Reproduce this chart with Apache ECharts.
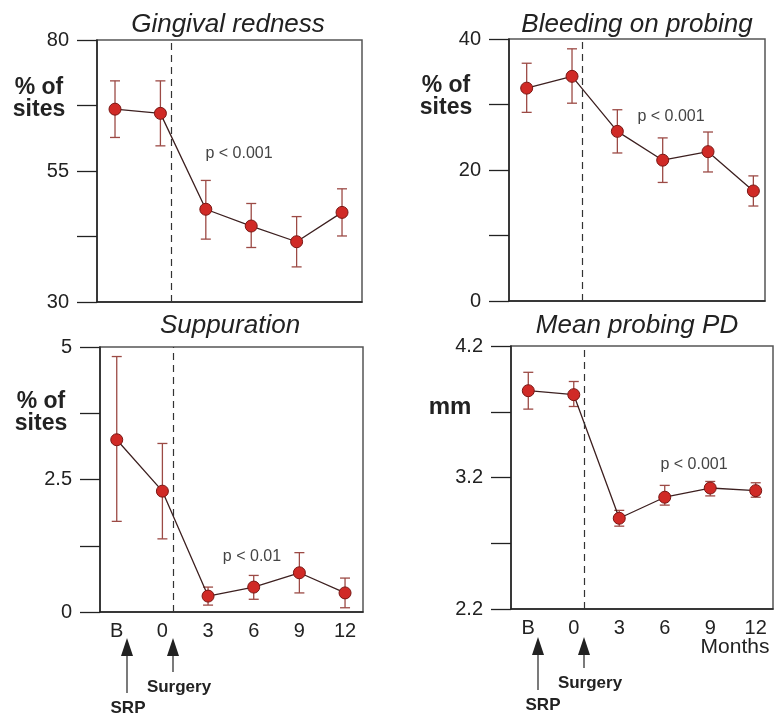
<!DOCTYPE html>
<html lang="en">
<head>
    <meta charset="UTF-8">
    <title>Periodontal outcomes</title>
    <script src="https://cdn.jsdelivr.net/npm/echarts@6/dist/echarts.min.js"></script>
    <style>
        html, body { margin: 0; padding: 0; background: #fff; }
        #chart { width: 775px; height: 717px; }
    </style>
</head>
<body>
<div id="chart"></div>
<script>
    // time points (B = baseline, then months)
    var months = ['B', '0', '3', '6', '9', '12'];
    var monthPos = [-3, 0, 3, 6, 9, 12];
    var surgeryAt = 0.7;

    // Gingival redness (% of sites)
    var gingivalMean = [66.8, 66.0, 47.7, 44.5, 41.5, 47.1];
    var gingivalLow  = [61.4, 59.8, 42.0, 40.4, 36.7, 42.6];
    var gingivalHigh = [72.2, 72.2, 53.2, 48.8, 46.3, 51.6];
    var gingivalTicks = [30, 42.5, 55, 67.5, 80];
    var gingivalLabels = [30, 55, 80];

    // Bleeding on probing (% of sites)
    var bleedingMean = [32.5, 34.3, 25.9, 21.5, 22.8, 16.8];
    var bleedingLow  = [28.8, 30.2, 22.6, 18.1, 19.7, 14.5];
    var bleedingHigh = [36.3, 38.5, 29.2, 24.9, 25.8, 19.1];
    var bleedingTicks = [0, 10, 20, 30, 40];
    var bleedingLabels = [0, 20, 40];

    // Suppuration (% of sites)
    var suppMean = [3.25, 2.28, 0.30, 0.47, 0.74, 0.36];
    var suppLow  = [1.71, 1.38, 0.13, 0.24, 0.36, 0.08];
    var suppHigh = [4.82, 3.18, 0.47, 0.69, 1.12, 0.64];
    var suppTicks = [0, 1.25, 2.5, 3.75, 5];
    var suppLabels = [0, 2.5, 5];

    // Mean probing PD (mm)
    var pdMean = [3.86, 3.83, 2.89, 3.05, 3.12, 3.10];
    var pdLow  = [3.72, 3.74, 2.83, 2.99, 3.06, 3.05];
    var pdHigh = [4.00, 3.93, 2.95, 3.14, 3.17, 3.16];
    var pdTicks = [2.2, 2.7, 3.2, 3.7, 4.2];
    var pdLabels = [2.2, 3.2, 4.2];

    var FONT = '"Liberation Sans", Arial, sans-serif';
    var INK = '#222';

    var panels = [
        {grid: {left: 97, top: 40, width: 265, height: 262}, xMin: -4.19, xMax: 13.32, yMin: 30, yMax: 80,
         mean: gingivalMean, low: gingivalLow, high: gingivalHigh, ticks: gingivalTicks, labels: gingivalLabels, showX: false},
        {grid: {left: 509, top: 39, width: 256, height: 262}, xMin: -4.17, xMax: 12.77, yMin: 0, yMax: 40,
         mean: bleedingMean, low: bleedingLow, high: bleedingHigh, ticks: bleedingTicks, labels: bleedingLabels, showX: false},
        {grid: {left: 100, top: 347, width: 263, height: 265}, xMin: -4.10, xMax: 13.18, yMin: 0, yMax: 5,
         mean: suppMean, low: suppLow, high: suppHigh, ticks: suppTicks, labels: suppLabels, showX: true},
        {grid: {left: 511, top: 346, width: 262, height: 263}, xMin: -4.14, xMax: 13.14, yMin: 2.2, yMax: 4.2,
         mean: pdMean, low: pdLow, high: pdHigh, ticks: pdTicks, labels: pdLabels, showX: true}
    ];

    var grids = [], xAxes = [], yAxes = [], series = [];

    panels.forEach(function (p, i) {
        grids.push({
            left: p.grid.left, top: p.grid.top, width: p.grid.width, height: p.grid.height,
            show: true, borderColor: '#555', borderWidth: 1.5, backgroundColor: 'transparent'
        });
        xAxes.push({
            type: 'value', gridIndex: i, min: p.xMin, max: p.xMax,
            axisLine: {show: true, onZero: false, lineStyle: {color: INK, width: 1.5}},
            axisTick: {show: false},
            splitLine: {show: false},
            axisLabel: {
                show: p.showX, customValues: monthPos, margin: 9,
                color: INK, fontSize: 20, fontFamily: FONT,
                formatter: function (v) { return months[monthPos.indexOf(v)]; }
            }
        });
        yAxes.push({
            type: 'value', gridIndex: i, min: p.yMin, max: p.yMax,
            axisLine: {show: true, onZero: false, lineStyle: {color: INK, width: 1.5}},
            axisTick: {show: true, length: 20, customValues: p.ticks, lineStyle: {color: INK, width: 1.3}},
            splitLine: {show: false},
            axisLabel: {customValues: p.labels, margin: 28, color: INK, fontSize: 20, fontFamily: FONT}
        });
        // error bars
        series.push({
            type: 'custom', xAxisIndex: i, yAxisIndex: i, z: 2, silent: true,
            data: monthPos.map(function (x, j) { return [x, p.low[j], p.high[j]]; }),
            renderItem: function (params, api) {
                var lo = api.coord([api.value(0), api.value(1)]);
                var hi = api.coord([api.value(0), api.value(2)]);
                var cap = 5;
                var st = {stroke: '#9c4a45', lineWidth: 1.3};
                return {
                    type: 'group',
                    children: [
                        {type: 'line', shape: {x1: lo[0], y1: lo[1], x2: hi[0], y2: hi[1]}, style: st},
                        {type: 'line', shape: {x1: lo[0] - cap, y1: lo[1], x2: lo[0] + cap, y2: lo[1]}, style: st},
                        {type: 'line', shape: {x1: hi[0] - cap, y1: hi[1], x2: hi[0] + cap, y2: hi[1]}, style: st}
                    ]
                };
            }
        });
        // means
        series.push({
            type: 'line', xAxisIndex: i, yAxisIndex: i, z: 3, silent: true,
            data: monthPos.map(function (x, j) { return [x, p.mean[j]]; }),
            symbol: 'circle', symbolSize: 12,
            itemStyle: {color: '#d02a26', borderColor: '#7a1714', borderWidth: 1},
            lineStyle: {color: '#3d2020', width: 1.3},
            markLine: {
                silent: true, symbol: 'none', label: {show: false},
                lineStyle: {color: '#333', type: [7, 5], width: 1.2},
                data: [{xAxis: surgeryAt}]
            }
        });
    });

    function txt(text, x, y, size, opts) {
        opts = opts || {};
        return {
            type: 'text', silent: true, z: 10,
            style: {
                text: text, x: x, y: y,
                font: (opts.italic ? 'italic ' : '') + (opts.bold ? 'bold ' : '') + size + 'px ' + FONT,
                fill: opts.color || INK, textAlign: opts.align || 'center', textVerticalAlign: 'middle',
                lineHeight: opts.lineHeight
            }
        };
    }

    function arrow(x, yTip, yEnd) {
        return [
            {type: 'line', silent: true, shape: {x1: x, y1: yTip + 10, x2: x, y2: yEnd}, style: {stroke: INK, lineWidth: 1.2}},
            {type: 'polygon', silent: true, shape: {points: [[x, yTip], [x - 6, yTip + 18], [x + 6, yTip + 18]]}, style: {fill: INK}}
        ];
    }

    var graphics = [
        txt('Gingival redness', 228, 25, 26, {italic: true}),
        txt('Bleeding on probing', 637, 25, 26, {italic: true}),
        txt('Suppuration', 230, 326, 26, {italic: true}),
        txt('Mean probing PD', 637, 326, 26, {italic: true}),
        txt('% of\nsites', 39, 99, 23, {bold: true, lineHeight: 22}),
        txt('% of\nsites', 446, 97, 23, {bold: true, lineHeight: 22}),
        txt('% of\nsites', 41, 413, 23, {bold: true, lineHeight: 22}),
        txt('mm', 450, 407, 24, {bold: true}),
        txt('p < 0.001', 239, 154, 16, {color: '#444'}),
        txt('p < 0.001', 671, 117, 16, {color: '#444'}),
        txt('p < 0.01', 252, 557, 16, {color: '#444'}),
        txt('p < 0.001', 694, 465, 16, {color: '#444'}),
        txt('Months', 735, 647, 21),
        txt('Surgery', 179, 687, 17, {bold: true}),
        txt('SRP', 128, 708, 17, {bold: true}),
        txt('Surgery', 590, 683, 17, {bold: true}),
        txt('SRP', 543, 705, 17, {bold: true})
    ].concat(arrow(127, 638, 693), arrow(173, 638, 672), arrow(538, 637, 690), arrow(584, 637, 668));

    var option = {
        backgroundColor: '#fff',
        animation: false,
        grid: grids,
        xAxis: xAxes,
        yAxis: yAxes,
        series: series,
        graphic: graphics
    };

    var myChart = echarts.init(document.getElementById('chart'));
    myChart.setOption(option);
</script>
</body>
</html>
